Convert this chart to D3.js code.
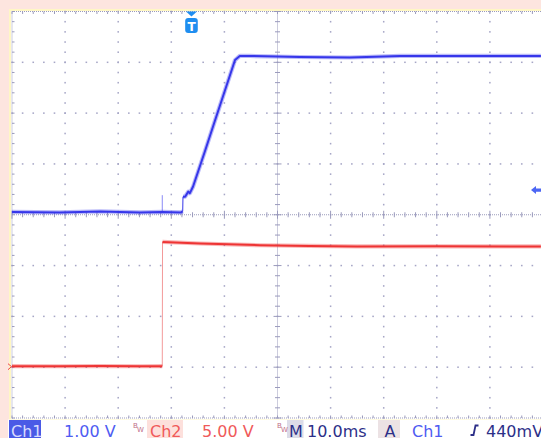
<!DOCTYPE html>
<html><head><meta charset="utf-8">
<script src="https://cdn.jsdelivr.net/npm/d3@7"></script>
<style>html,body{margin:0;padding:0;background:#fff;}svg{display:block;}</style>
</head><body>
<script>
// ---- data (time in ms from left edge, volts) ----
const ch1Pre    = [[0,0.01],[9,0.0],[16.6,0.02],[24.1,0.0],[28.3,0.01],[31.8,0.0],[32.15,0.02]];
const ch1Post   = [[32.2,0.31],[32.6,0.31],[33.2,0.41],[33.5,0.38],[34.1,0.51],[36.35,1.21],[38.2,1.8],[40.1,2.4],[42.0,3.0],[42.9,3.08],[44.8,3.08],[54.2,3.06],[63.6,3.05],[73.1,3.08],[82.5,3.08],[91.9,3.08],[99.6,3.08]];
const ch1Glitch = [[28.3,0.0],[28.3,0.34]];
const ch1Jump   = [[32.15,0.02],[32.2,0.31]];
const ch2Pre    = [[0,0.05],[9,0.04],[16.6,0.06],[24.1,0.04],[28.3,0.05]];
const ch2Post   = [[28.35,12.28],[35.4,12.12],[46.7,11.95],[56,11.88],[65,11.83],[80,11.84],[99.6,11.83]];
const ch2Step   = [[28.3,0.05],[28.35,12.28]];

const voltsPerDiv = {ch1: 1.0, ch2: 5.0};
const positionDiv = {ch1: 0.045, ch2: -2.99};
const triggerTime = 33.8;   // ms
const triggerLevel = 0.44;  // V on ch1

const statusTexts  = ["Ch1","1.00 V","Ch2","5.00 V","M","10.0ms","A","Ch1","440mV"];
const statusX      = [11, 64, 150, 202, 289, 307, 384.5, 412, 486];
const statusColors = ["#d8dcff","#4f5cf2","#f05a5a","#f05a5a","#2c2f88","#2c2f88","#2c2f88","#4f5cf2","#2c2f88"];
const statusBoxes  = [[9,41,"#4a5ae6"],null,[147,183,"#fde0dc"],null,[287,303.5,"#dcdce8"],null,[378,400,"#ece2e4"],null,null];
const bwX = [133, 277];

// ---- layout ----
const W = 541, H = 438;
const svg = d3.select("body").append("svg").attr("width",W).attr("height",H);

const xDiv = d3.scaleLinear().domain([0,10]).range([12,543]);
const yDiv = d3.scaleLinear().domain([-4,4]).range([418,11.5]);
const xT = d3.scaleLinear().domain([0,100]).range([12,543]);
function chScale(ch){
  const v = voltsPerDiv[ch], p = positionDiv[ch];
  return d3.scaleLinear().domain([(-4-p)*v,(4-p)*v]).range([418,11.5]);
}
const y1 = chScale("ch1"), y2 = chScale("ch2");

// background
svg.append("rect").attr("width",W).attr("height",H).attr("fill","#fde5df");
svg.append("rect").attr("x",9).attr("y",9).attr("width",W-9).attr("height",411).attr("fill","#fff7c4");
svg.append("rect").attr("x",11).attr("y",11).attr("width",W-11).attr("height",408).attr("fill","#ffffff");
svg.append("rect").attr("x",8).attr("y",419.5).attr("width",W-8).attr("height",H-419.5).attr("fill","#ffffff");

// ---- graticule ----
const g = svg.append("g");
const gridCol = "#a6a6c6", tickCol = "#9a9abc";
const minorX = d3.range(0,50.001,1).map(i=>i/5);
const minorY = d3.range(0,40.001,1).map(i=>-4+i/5);

for (let i=1;i<10;i++){ if(i===5) continue;
  minorY.forEach(d=>g.append("rect").attr("x",xDiv(i)-0.75).attr("y",yDiv(d)-0.75).attr("width",1.5).attr("height",1.6).attr("fill",gridCol));
}
for (let j=-3;j<=3;j++){ if(j===0) continue;
  minorX.forEach(d=>g.append("rect").attr("x",xDiv(d)-0.8).attr("y",yDiv(j)-0.75).attr("width",1.6).attr("height",1.5).attr("fill",gridCol));
}
function hDots(y, x1, x2){ for(let x=x1;x<=x2;x+=2) g.append("rect").attr("x",x).attr("y",y-0.5).attr("width",1).attr("height",1).attr("fill",tickCol); }
function vDots(x, a, b){ for(let y=a;y<=b;y+=2) g.append("rect").attr("x",x-0.5).attr("y",y).attr("width",1).attr("height",1).attr("fill",tickCol); }
hDots(yDiv(0),12,W); vDots(xDiv(5),11.5,418);
hDots(yDiv(4),12,W); hDots(yDiv(-4),12,W); vDots(xDiv(0),11.5,418);

minorX.forEach((d,i)=>{ const L = (i%5===0)?4:2.5;
  g.append("line").attr("x1",xDiv(d)).attr("x2",xDiv(d)).attr("y1",yDiv(0)-L).attr("y2",yDiv(0)+L).attr("stroke",tickCol).attr("stroke-width",1);
  g.append("line").attr("x1",xDiv(d)).attr("x2",xDiv(d)).attr("y1",yDiv(4)).attr("y2",yDiv(4)+2.5).attr("stroke",tickCol).attr("stroke-width",1);
  g.append("line").attr("x1",xDiv(d)).attr("x2",xDiv(d)).attr("y1",yDiv(-4)-2.5).attr("y2",yDiv(-4)).attr("stroke",tickCol).attr("stroke-width",1);
});
minorY.forEach((d,i)=>{ const L = (i%5===0)?4:2.5;
  g.append("line").attr("y1",yDiv(d)).attr("y2",yDiv(d)).attr("x1",xDiv(5)-L).attr("x2",xDiv(5)+L).attr("stroke",tickCol).attr("stroke-width",1);
  g.append("line").attr("y1",yDiv(d)).attr("y2",yDiv(d)).attr("x1",xDiv(0)).attr("x2",xDiv(0)+2.5).attr("stroke",tickCol).attr("stroke-width",1);
});

// ---- traces ----
const line1 = d3.line().x(d=>xT(d[0])).y(d=>y1(d[1]));
const line2 = d3.line().x(d=>xT(d[0])).y(d=>y2(d[1]));
const blue = "#3636ea", red = "#ee3434";
const tr = svg.append("g");
function thick(data, ln, col){
  tr.append("path").attr("d",ln(data)).attr("fill","none").attr("stroke",col).attr("stroke-opacity",0.35).attr("stroke-width",4.2).attr("stroke-linejoin","round");
  tr.append("path").attr("d",ln(data)).attr("fill","none").attr("stroke",col).attr("stroke-width",2).attr("stroke-linejoin","round");
}
function thin(data, ln, col){
  tr.append("path").attr("d",ln(data)).attr("fill","none").attr("stroke",col).attr("stroke-width",1);
}
thin(ch2Step, line2, "#f39a9a");
thick(ch2Pre, line2, red);
thick(ch2Post, line2, red);
thin(ch1Glitch, line1, "#8a8af6");
thin(ch1Jump, line1, blue);
thick(ch1Pre, line1, blue);
thick(ch1Post, line1, blue);

// ---- markers ----
const tx = xT(triggerTime);
const mk = svg.append("g").attr("fill","#1f8ef0");
mk.append("path").attr("d",`M${tx-5.5},11.5 L${tx+5.5},11.5 L${tx},16.5 Z`);
mk.append("rect").attr("x",tx-6.3).attr("y",18).attr("width",12.6).attr("height",15).attr("rx",3);
svg.append("text").attr("x",tx).attr("y",30.5).attr("text-anchor","middle").attr("fill","#fff")
  .attr("font-family","DejaVu Sans").attr("font-weight","bold").attr("font-size",12).text("T");
const ty = y1(triggerLevel);
svg.append("path").attr("d",`M531,${ty} L536,${ty-4} L536,${ty-1.6} L541,${ty-1.6} L541,${ty+1.6} L536,${ty+1.6} L536,${ty+4} Z`).attr("fill","#4c66f4");
const gy = y2(0);
svg.append("path").attr("d",`M8,${gy-3} L11.5,${gy} L8,${gy+3}`).attr("fill","none").attr("stroke","#ee4444").attr("stroke-width",1);

// ---- status bar ----
const sb = svg.append("g").attr("font-family","DejaVu Sans").attr("font-size",16);
statusTexts.forEach((t,i)=>{
  const b = statusBoxes[i];
  if (b) sb.append("rect").attr("x",b[0]).attr("y",420).attr("width",b[1]-b[0]).attr("height",18).attr("fill",b[2]);
  sb.append("text").attr("x",statusX[i]).attr("y",436.5).attr("fill",statusColors[i]).text(t);
});
bwX.forEach(x=>{
  sb.append("text").attr("x",x).attr("y",428).attr("font-size",7).attr("fill","#c07088").text("B");
  sb.append("text").attr("x",x+4).attr("y",432).attr("font-size",7).attr("fill","#c07088").text("W");
});
sb.append("path").attr("d","M470.5,435 L473.5,435 L475.5,425.5 L478.5,425.5").attr("fill","none").attr("stroke","#2c2f88").attr("stroke-width",1.8);
</script>
</body></html>
